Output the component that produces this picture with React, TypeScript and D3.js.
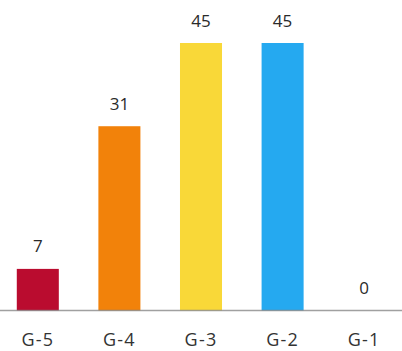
import React from "react";
import * as d3 from "d3";

const categories = ["G-5", "G-4", "G-3", "G-2", "G-1"];
const values = [7, 31, 45, 45, 0];
const colors = ["#BA0C2F", "#F2820A", "#F9D838", "#25A9F0", "#8E44AD"];

const W = 402;
const H = 351;

export default function App() {
  const x = d3
    .scaleBand<string>()
    .domain(categories)
    .range([-3, 405])
    .paddingInner(0.485)
    .paddingOuter(0.2425);
  const y = d3.scaleLinear().domain([0, 45]).range([310.5, 43]);
  const font = "'Open Sans', 'Noto Sans', sans-serif";
  return (
    <svg
      width={W}
      height={H}
      style={{ position: "absolute", left: 0, top: 0, background: "#fff" }}
    >
      {categories.map((c, i) => (
        <rect
          key={c}
          x={x(c)}
          y={y(values[i])}
          width={x.bandwidth()}
          height={y(0) - y(values[i])}
          fill={colors[i]}
        />
      ))}
      <line x1={0} x2={W} y1={310.5} y2={310.5} stroke="#808080" strokeOpacity={0.75} strokeWidth={1.5} />
      {categories.map((c, i) => (
        <text
          key={"v" + c}
          x={(x(c) as number) + x.bandwidth() / 2}
          y={y(values[i]) - 16.5}
          textAnchor="middle"
          fontFamily={font}
          fontSize={17}
          fill="#2a2a2a"
        >
          {values[i]}
        </text>
      ))}
      {categories.map((c) => (
        <text
          key={"t" + c}
          x={(x(c) as number) + x.bandwidth() / 2}
          y={345.5}
          textAnchor="middle"
          fontFamily={font}
          fontSize={18}
          fill="#333"
          letterSpacing={1.2}
        >
          {c}
        </text>
      ))}
    </svg>
  );
}
